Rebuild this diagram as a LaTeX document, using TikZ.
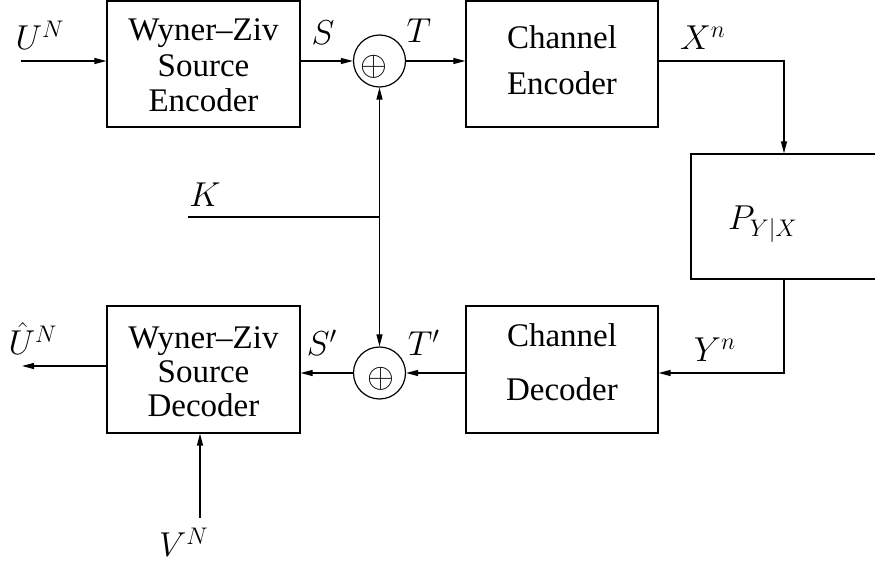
\documentclass[tikz,border=0pt]{standalone}
\usepackage[no-math]{fontspec}
\setmainfont{Liberation Serif}
\usetikzlibrary{arrows.meta,calc}
\tikzset{
  blk/.style={draw, line width=0.6pt, inner sep=0pt},
  txt/.style={align=center, inner sep=0pt},
  lbl/.style={anchor=base, inner sep=0pt},
  adder/.style={draw, circle, line width=0.6pt, minimum size=26pt, inner sep=0pt},
  sig/.style={line width=0.6pt},
  arr/.style={line width=0.6pt, -{Triangle[length=6pt,width=3pt]}},
}
\begin{document}
\begin{tikzpicture}[x=0.5pt, y=-0.5pt, font=\fontsize{16.5}{19}\selectfont]
\useasboundingbox (0,0) rectangle (875,567);
\clip (0,0) rectangle (875,567);
% boxes
\node[blk, minimum width=96.5pt, minimum height=63pt] (wzenc) at (203.5,64) {};
\node[blk, minimum width=96pt, minimum height=63pt] (chenc) at (562,64) {};
\node[blk, minimum width=93pt, minimum height=62.5pt] (P) at (784,216.5) {};
\node[blk, minimum width=96pt, minimum height=63.5pt] (chdec) at (562,369.5) {};
\node[blk, minimum width=96.5pt, minimum height=63.5pt] (wzdec) at (203.5,369.5) {};
% box texts
\node[txt, font=\fontsize{16.5}{17.8}\selectfont] (wzenct) at (203.5,65.5) {Wyner--Ziv\\Source\\Encoder};
\node[txt, font=\fontsize{16.5}{23}\selectfont] (chenct) at (562,60.5) {Channel\\Encoder};
\node[txt, font=\fontsize{16.5}{27}\selectfont] (chdect) at (562,362) {Channel\\Decoder};
\node[txt, font=\fontsize{16.5}{17}\selectfont] (wzdect) at (203.5,371.5) {Wyner--Ziv\\Source\\Decoder};
% adders
\node[adder] (add1) at (379.5,61) {};
\node[inner sep=0pt, font=\fontsize{17}{19}\selectfont] (op1) at (374,67) {$\oplus$};
\node[adder] (add2) at (379.5,373) {};
\node[inner sep=0pt, font=\fontsize{17}{19}\selectfont] (op2) at (381,379) {$\oplus$};
% coordinates
\coordinate (uin) at (21,61);
\coordinate (uhat) at (22,366);
\coordinate (vin) at (200,518);
\coordinate (kin) at (188,217);
\coordinate (kj) at (379.5,217);
% labels
\node[lbl] (lU) at (40,50) {$U^N$};
\node[lbl] (lS) at (323,45) {$S$};
\node[lbl] (lT) at (419,43) {$T$};
\node[lbl] (lX) at (703,50) {$X^n$};
\node[lbl] (lP) at (763,230) {$P_{Y|X}$};
\node[lbl] (lK) at (205,207) {$K$};
\node[lbl] (lY) at (715,362) {$Y^n$};
\node[lbl] (lUh) at (33,355) {$\hat{U}^N$};
\node[lbl] (lSp) at (322,356) {$S'$};
\node[lbl] (lTp) at (424,356) {$T'$};
\node[lbl] (lV) at (184,557) {$V^N$};
% connectors
\draw[arr] (uin) -- (uin -| wzenc.west);
\draw[arr] (wzenc.east |- add1) -- (add1.west);
\draw[arr] (add1.east) -- (add1 -| chenc.west);
\draw[arr] (add1 -| chenc.east) -| (P.north);
\draw[arr] (P.south) |- (add2 -| chdec.east);
\draw[arr] (add2 -| chdec.west) -- (add2.east);
\draw[arr] (add2.west) -- (add2 -| wzdec.east);
\draw[arr] (uhat -| wzdec.west) -- (uhat);
\draw[arr] (vin) -- (vin |- wzdec.south);
\draw[sig] (kin) -- (kj);
\draw[arr] (kj) -- (add1.south);
\draw[arr] (kj) -- (add2.north);
\end{tikzpicture}
\end{document}
